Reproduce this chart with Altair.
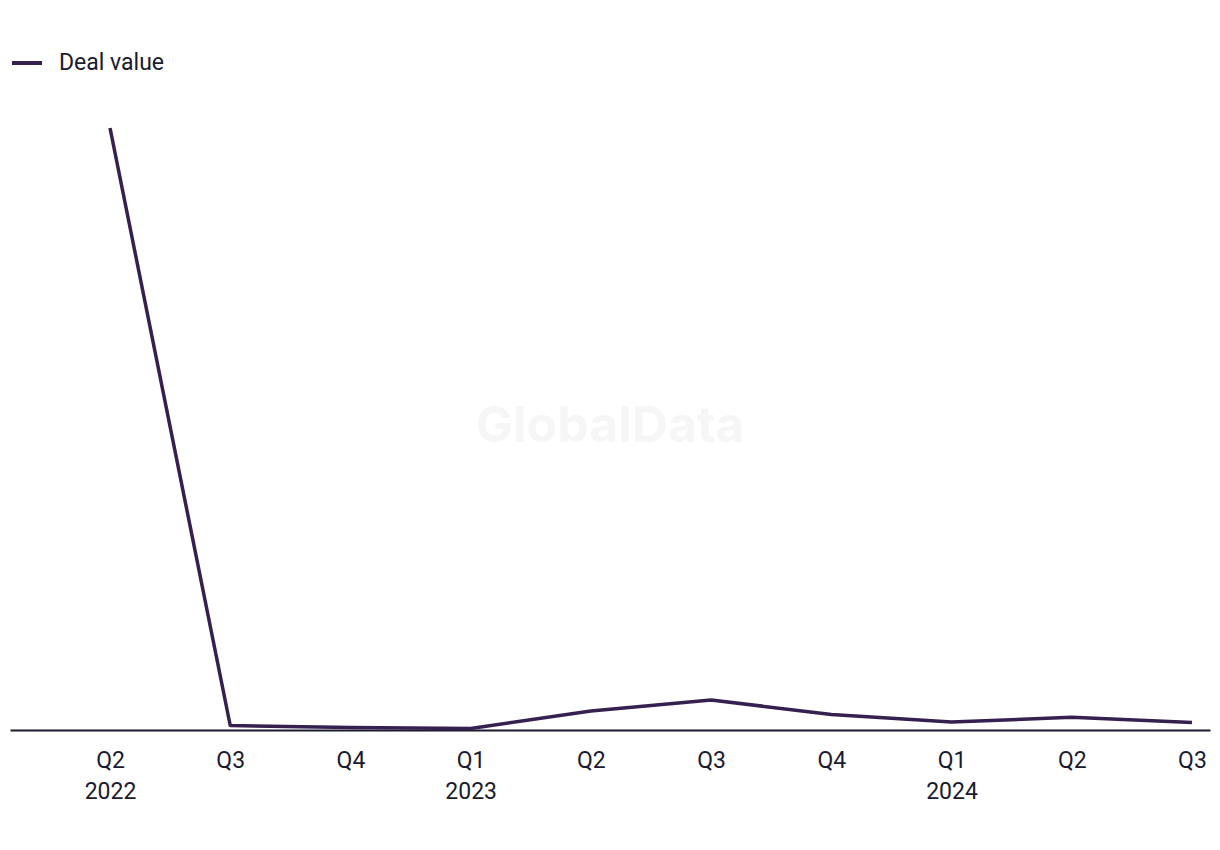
import altair as alt
import pandas as pd

quarters = ["Q2", "Q3", "Q4", "Q1", "Q2", "Q3", "Q4", "Q1", "Q2", "Q3"]
years = ["2022", "", "", "2023", "", "", "", "2024", "", ""]
deal_value = [602, 4.5, 2.5, 1.5, 19, 30, 15.5, 8, 12.7, 7.5]
series_name = "Deal value"

LINE = "#35204f"
TEXT = "#1b1a2e"
FONT = "Roboto"

df = pd.DataFrame({
    "idx": list(range(len(quarters))),
    "quarter": quarters,
    "year": years,
    "value": deal_value,
    "series": [series_name] * len(quarters),
})

label_arr = "[" + ",".join(
    "['%s','%s']" % (q, y) if y else "['%s']" % q for q, y in zip(quarters, years)
) + "]"

x_enc = alt.X(
    "idx:Q",
    scale=alt.Scale(domain=[-0.832, 9.15], nice=False, zero=False),
    axis=alt.Axis(
        values=list(range(len(quarters))),
        labelExpr=label_arr + "[datum.value]",
        title=None,
        grid=False,
        ticks=False,
        domain=True,
        domainColor=TEXT,
        domainWidth=2,
        labelFont=FONT,
        labelFontSize=23,
        labelColor=TEXT,
        labelPadding=19,
        labelLineHeight=31,
        labelBaseline="top",
        labelFlush=False,
    ),
)

y_enc = alt.Y(
    "value:Q",
    scale=alt.Scale(domain=[0, 602], nice=False),
    axis=None,
)

line = alt.Chart(df).mark_line(strokeWidth=3.5, strokeJoin="round").encode(
    x=x_enc,
    y=y_enc,
    color=alt.Color(
        "series:N",
        scale=alt.Scale(range=[LINE]),
        legend=alt.Legend(
            title=None,
            orient="none",
            legendX=0,
            legendY=-82,
            padding=0,
            symbolType="stroke",
            symbolSize=900,
            symbolStrokeWidth=4,
            symbolStrokeColor=LINE,
            labelFont=FONT,
            labelFontSize=23,
            labelColor=TEXT,
            labelOffset=15,
        ),
    ),
)

watermark = alt.Chart(pd.DataFrame({"t": ["GlobalData"]})).mark_text(
    font="Inter", fontSize=50, fontWeight="bold", color="#f6f6f6",
    align="center", baseline="middle",
).encode(x=alt.value(600), y=alt.value(299), text="t:N")

chart = alt.layer(watermark, line).properties(
    width=1200,
    height=602,
    padding={"left": 10, "top": 128, "right": 10, "bottom": 120},
    autosize=alt.AutoSizeParams(type="none"),
    background="white",
).configure_view(stroke=None, strokeWidth=0)

chart.save("out.html", embed_options={"renderer": "svg", "actions": False})
